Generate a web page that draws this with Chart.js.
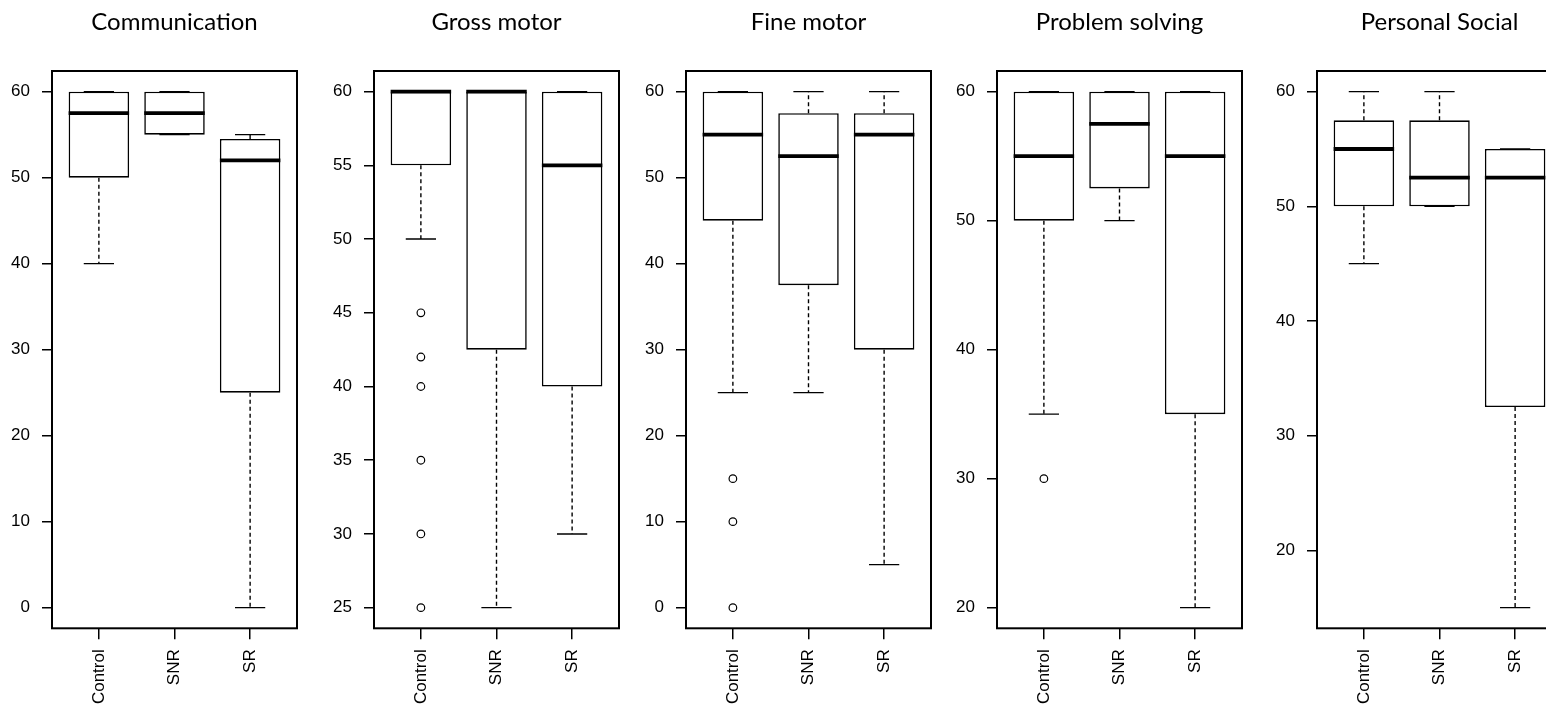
<!DOCTYPE html>
<html lang="en">
<head>
<meta charset="UTF-8">
<title>Developmental domains by group</title>
<script src="https://cdn.jsdelivr.net/npm/chart.js"></script>
<style>
  body { margin: 0; background: #fff; }
  #wrap { position: relative; width: 1546px; height: 714px; overflow: hidden; }
  #wrap canvas { position: absolute; top: 0; }
</style>
</head>
<body>
<div id="wrap">
  <canvas id="comm" width="349" height="714" style="left:0px"></canvas>
  <canvas id="gross" width="349" height="714" style="left:322px"></canvas>
  <canvas id="fine" width="349" height="714" style="left:634px"></canvas>
  <canvas id="problem" width="349" height="714" style="left:945px"></canvas>
  <canvas id="social" width="349" height="714" style="left:1265px"></canvas>
</div>
<script>
const groups = ['Control', 'SNR', 'SR'];

// Communication
const commLow = [40, 55, 0];
const commQ1 = [50, 55, 25];
const commMedian = [57.5, 57.5, 52];
const commQ3 = [60, 60, 54.5];
const commHigh = [60, 60, 55];
const commOutliers = [[], [], []];
const commTicks = [0, 10, 20, 30, 40, 50, 60];

// Gross motor
const grossLow = [50, 25, 30];
const grossQ1 = [55, 42.5, 40];
const grossMedian = [60, 60, 55];
const grossQ3 = [60, 60, 60];
const grossHigh = [60, 60, 60];
const grossOutliers = [[45, 42, 40, 35, 30, 25], [], []];
const grossTicks = [25, 30, 35, 40, 45, 50, 55, 60];

// Fine motor
const fineLow = [25, 25, 5];
const fineQ1 = [45, 37.5, 30];
const fineMedian = [55, 52.5, 55];
const fineQ3 = [60, 57.5, 57.5];
const fineHigh = [60, 60, 60];
const fineOutliers = [[15, 10, 0], [], []];
const fineTicks = [0, 10, 20, 30, 40, 50, 60];

// Problem solving
const problemLow = [35, 50, 20];
const problemQ1 = [50, 52.5, 35];
const problemMedian = [55, 57.5, 55];
const problemQ3 = [60, 60, 60];
const problemHigh = [60, 60, 60];
const problemOutliers = [[30], [], []];
const problemTicks = [20, 30, 40, 50, 60];

// Personal Social
const socialLow = [45, 50, 15];
const socialQ1 = [50, 50, 32.5];
const socialMedian = [55, 52.5, 52.5];
const socialQ3 = [57.5, 57.5, 55];
const socialHigh = [60, 60, 55];
const socialOutliers = [[], [], []];
const socialTicks = [20, 30, 40, 50, 60];

const panels = [
  { id: 'comm', title: 'Communication', low: commLow, q1: commQ1, med: commMedian, q3: commQ3, high: commHigh, out: commOutliers, ticks: commTicks },
  { id: 'gross', title: 'Gross motor', low: grossLow, q1: grossQ1, med: grossMedian, q3: grossQ3, high: grossHigh, out: grossOutliers, ticks: grossTicks },
  { id: 'fine', title: 'Fine motor', low: fineLow, q1: fineQ1, med: fineMedian, q3: fineQ3, high: fineHigh, out: fineOutliers, ticks: fineTicks },
  { id: 'problem', title: 'Problem solving', low: problemLow, q1: problemQ1, med: problemMedian, q3: problemQ3, high: problemHigh, out: problemOutliers, ticks: problemTicks },
  { id: 'social', title: 'Personal Social', low: socialLow, q1: socialQ1, med: socialMedian, q3: socialQ3, high: socialHigh, out: socialOutliers, ticks: socialTicks },
];

const BOX_HALF = 0.4;   // box is 0.8 of a group slot
const CAP_HALF = 0.2;   // staple is half the box width

// size the title font so "Communication" is about 168px wide, like the original
const measureCtx = document.createElement('canvas').getContext('2d');
measureCtx.font = '100px Lato';
const titleSize = Math.round(100 * 168 / measureCtx.measureText('Communication').width);
const titleLine = titleSize * 1.2;
const titlePadTop = 22 - titleLine / 2;
const titlePadBottom = 71 - titlePadTop - titleLine;

// box frame round the plot area
const framePlugin = {
  id: 'frame',
  afterDatasetsDraw(chart) {
    const a = chart.chartArea;
    const ctx = chart.ctx;
    ctx.save();
    ctx.lineWidth = 2;
    ctx.strokeStyle = '#000';
    ctx.strokeRect(a.left, a.top, a.right - a.left, a.bottom - a.top);
    ctx.restore();
  }
};

function gap(x) {
  return { x: x, y: null };
}

function renderPanel(p) {
  const all = [].concat(p.low, p.high, ...p.out);
  const dMin = Math.min(...all);
  const dMax = Math.max(...all);
  const pad = (dMax - dMin) * 0.04;

  const medianPts = [];
  const whiskerPts = [];
  const capPts = [];
  groups.forEach((g, i) => {
    const x = i + 1;
    medianPts.push({ x: x - BOX_HALF, y: p.med[i] }, { x: x + BOX_HALF, y: p.med[i] }, gap(x + 0.5));
    whiskerPts.push({ x: x, y: p.q3[i] }, { x: x, y: p.high[i] }, gap(x));
    whiskerPts.push({ x: x, y: p.q1[i] }, { x: x, y: p.low[i] }, gap(x));
    capPts.push({ x: x - CAP_HALF, y: p.high[i] }, { x: x + CAP_HALF, y: p.high[i] }, gap(x));
    capPts.push({ x: x - CAP_HALF, y: p.low[i] }, { x: x + CAP_HALF, y: p.low[i] }, gap(x));
  });
  const outlierPts = [];
  p.out.forEach((vals, i) => vals.forEach(v => outlierPts.push({ x: i + 1, y: v })));

  const lineBase = { type: 'line', borderColor: '#000', pointRadius: 0, fill: false, spanGaps: false, tension: 0 };

  new Chart(document.getElementById(p.id), {
    type: 'bar',
    data: {
      datasets: [
        Object.assign({}, lineBase, { data: medianPts, borderWidth: 3.8, borderCapStyle: 'butt' }),
        Object.assign({}, lineBase, { data: capPts, borderWidth: 1.4 }),
        Object.assign({}, lineBase, { data: whiskerPts, borderWidth: 1.4, borderDash: [4, 3] }),
        {
          type: 'scatter',
          data: outlierPts,
          pointRadius: 3.8,
          pointBorderWidth: 1.2,
          pointBorderColor: '#000',
          pointBackgroundColor: '#fff'
        },
        {
          type: 'bar',
          data: groups.map((g, i) => ({ x: i + 1, y: [p.q1[i], p.q3[i]] })),
          backgroundColor: '#fff',
          borderColor: '#000',
          borderWidth: 1.6,
          borderSkipped: false,
          barPercentage: 0.8,
          categoryPercentage: 1.0
        }
      ]
    },
    options: {
      responsive: false,
      animation: false,
      events: [],
      plugins: {
        legend: { display: false },
        tooltip: { enabled: false },
        title: {
          display: true,
          text: p.title,
          color: '#000',
          font: { family: 'Lato', size: titleSize, weight: 'normal', lineHeight: 1.2 },
          padding: { top: titlePadTop, bottom: titlePadBottom }
        }
      },
      scales: {
        x: {
          type: 'linear',
          min: 0.38,
          max: 3.62,
          offset: false,
          afterBuildTicks: s => { s.ticks = groups.map((g, i) => ({ value: i + 1 })); },
          afterFit: s => { s.height = 85.7; },
          grid: { display: true, drawOnChartArea: false, drawTicks: true, tickLength: 11, color: '#000', lineWidth: 1.5, offset: false },
          border: { display: false },
          ticks: {
            autoSkip: false,
            minRotation: 90,
            maxRotation: 90,
            padding: 10,
            color: '#000',
            font: { family: 'Liberation Sans', size: 17 },
            callback: v => groups[v - 1]
          }
        },
        y: {
          type: 'linear',
          position: 'left',
          min: dMin - pad,
          max: dMax + pad,
          beginAtZero: false,
          afterBuildTicks: s => { s.ticks = p.ticks.map(v => ({ value: v })); },
          afterFit: s => { s.width = 52; },
          grid: { display: true, drawOnChartArea: false, drawTicks: true, tickLength: 10, color: '#000', lineWidth: 1.5 },
          border: { display: false },
          ticks: {
            padding: 12,
            color: '#000',
            font: { family: 'Liberation Sans', size: 17 }
          }
        },
        yRight: {
          type: 'linear',
          position: 'right',
          display: true,
          afterFit: s => { s.width = 52; },
          grid: { display: false },
          border: { display: false },
          ticks: { display: false }
        }
      }
    },
    plugins: [framePlugin]
  });
}

panels.forEach(renderPanel);
</script>
</body>
</html>
